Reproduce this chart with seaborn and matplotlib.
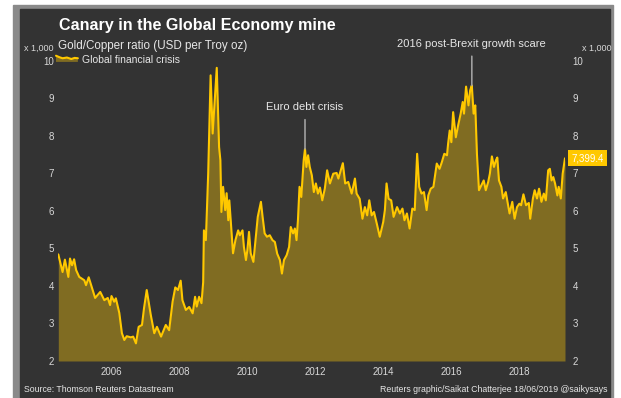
import matplotlib
matplotlib.use("Agg")
import matplotlib.pyplot as plt
from matplotlib.patches import Rectangle, Polygon
from matplotlib.lines import Line2D
from matplotlib.legend_handler import HandlerBase
import pandas as pd
import seaborn as sns

# Gold/Copper ratio, USD per troy oz
dates = [
    "2004-06-08", "2004-07-24", "2004-08-18", "2004-09-24", "2004-10-12", "2004-11-03",
    "2004-11-25", "2004-12-17", "2005-01-19", "2005-03-15", "2005-04-02", "2005-05-01",
    "2005-06-07", "2005-07-09", "2005-09-02", "2005-10-16", "2005-11-22", "2005-12-17",
    "2006-01-01", "2006-01-30", "2006-02-17", "2006-03-26", "2006-04-23", "2006-05-19",
    "2006-06-14", "2006-07-28", "2006-08-22", "2006-09-21", "2006-10-20", "2006-11-25",
    "2006-12-17", "2007-01-15", "2007-02-28", "2007-04-06", "2007-05-05", "2007-06-18",
    "2007-08-08", "2007-09-13", "2007-10-20", "2007-11-18", "2007-12-17", "2008-01-15",
    "2008-02-03", "2008-03-11", "2008-04-16", "2008-05-23", "2008-06-18", "2008-07-06",
    "2008-07-31", "2008-08-26", "2008-09-13", "2008-09-21", "2008-10-12", "2008-10-20",
    "2008-11-06", "2008-12-02", "2008-12-24", "2009-01-08", "2009-02-06", "2009-03-03",
    "2009-03-17", "2009-03-28", "2009-04-15", "2009-05-08", "2009-05-23", "2009-06-10",
    "2009-06-21", "2009-07-16", "2009-07-31", "2009-08-26", "2009-09-24", "2009-10-12",
    "2009-11-10", "2009-11-25", "2009-12-17", "2010-01-01", "2010-01-19", "2010-02-06",
    "2010-03-07", "2010-04-23", "2010-05-27", "2010-06-14", "2010-07-06", "2010-07-31",
    "2010-08-30", "2010-09-28", "2010-10-24", "2010-11-18", "2010-12-17", "2011-01-08",
    "2011-01-30", "2011-02-28", "2011-03-26", "2011-04-13", "2011-05-08", "2011-05-27",
    "2011-06-14", "2011-06-29", "2011-07-16", "2011-08-04", "2011-08-30", "2011-09-13",
    "2011-09-28", "2011-10-16", "2011-11-03", "2011-11-25", "2011-12-17", "2012-01-08",
    "2012-01-30", "2012-02-21", "2012-03-17", "2012-04-13", "2012-05-08", "2012-06-07",
    "2012-07-13", "2012-08-18", "2012-09-06", "2012-10-24", "2012-11-18", "2012-12-21",
    "2013-01-27", "2013-03-03", "2013-03-21", "2013-04-23", "2013-05-23", "2013-06-18",
    "2013-07-13", "2013-08-04", "2013-08-30", "2013-09-24", "2013-10-24", "2013-11-25",
    "2014-01-01", "2014-01-19", "2014-02-06", "2014-02-28", "2014-03-28", "2014-04-23",
    "2014-05-30", "2014-06-29", "2014-07-27", "2014-08-18", "2014-09-13", "2014-10-12",
    "2014-11-10", "2014-12-06", "2015-01-01", "2015-01-23", "2015-02-17", "2015-03-15",
    "2015-04-13", "2015-05-01", "2015-05-27", "2015-06-25", "2015-07-31", "2015-08-30",
    "2015-09-24", "2015-10-20", "2015-11-18", "2015-11-30", "2015-12-17", "2016-01-04",
    "2016-01-23", "2016-02-21", "2016-03-17", "2016-04-13", "2016-05-05", "2016-05-19",
    "2016-06-10", "2016-07-06", "2016-07-24", "2016-08-11", "2016-08-30", "2016-09-17",
    "2016-10-05", "2016-10-27", "2016-11-22", "2016-12-17", "2017-01-08", "2017-02-03",
    "2017-02-21", "2017-03-15", "2017-04-06", "2017-04-28", "2017-05-12", "2017-05-30",
    "2017-06-25", "2017-07-13", "2017-08-11", "2017-09-02", "2017-09-21", "2017-10-20",
    "2017-11-14", "2017-12-10", "2018-01-04", "2018-01-23", "2018-02-17", "2018-03-17",
    "2018-04-16", "2018-05-01", "2018-05-30", "2018-06-18", "2018-07-13", "2018-08-04",
    "2018-08-30", "2018-09-24", "2018-10-16", "2018-11-10", "2018-11-28", "2018-12-17",
    "2019-01-04", "2019-01-23", "2019-02-17", "2019-03-03", "2019-03-26", "2019-04-15",
    "2019-05-10",
]
ratio_usd = [
    4840, 4370, 4700, 4240, 4730, 4550,
    4710, 4420, 4240, 4150, 4020, 4230,
    3940, 3680, 3840, 3620, 3680, 3490,
    3730, 3580, 3670, 3280, 2740, 2560,
    2660, 2630, 2650, 2470, 2910, 2960,
    3410, 3890, 3220, 2740, 2910, 2650,
    2960, 2820, 3580, 3960, 3890, 4140,
    3620, 3360, 3440, 3270, 3710, 3450,
    3710, 3540, 4100, 5480, 5220, 5800,
    7000, 9610, 8060, 8670, 9810, 7700,
    7350, 5970, 6640, 6020, 6470, 5750,
    6280, 5400, 4870, 5220, 5480, 5350,
    5480, 5040, 4690, 4950, 5440, 4870,
    4640, 5840, 6240, 5840, 5400, 5310,
    5350, 5220, 5170, 4860, 4690, 4330,
    4690, 4820, 5040, 5570, 5400, 5530,
    5220, 5750, 6640, 6370, 7350, 7650,
    7170, 7480, 7170, 6950, 6500, 6730,
    6460, 6620, 6280, 6590, 7080, 6730,
    6990, 7010, 6860, 7270, 6730, 6770,
    6460, 6860, 6460, 6320, 5790, 6100,
    5880, 6280, 5880, 5970, 5660, 5310,
    5700, 6020, 6730, 6320, 6280, 5840,
    6100, 5930, 6060, 5750, 5930, 5530,
    6060, 6020, 7520, 6640, 6460, 6500,
    6020, 6410, 6590, 6640, 7260, 7120,
    7300, 7520, 7480, 7790, 8140, 7830,
    8630, 7960, 8280, 8590, 8900, 8590,
    9310, 8810, 9210, 9340, 8590, 8810,
    7520, 6550, 6680, 6810, 6550, 6770,
    6990, 7450, 7170, 7350, 7420, 6810,
    6640, 6330, 6500, 6190, 5930, 6240,
    5790, 6100, 6190, 6150, 6440, 6150,
    6210, 5790, 6330, 6550, 6330, 6590,
    6240, 6460, 6280, 7080, 7120, 6810,
    6900, 6730, 6410, 6640, 6330, 6990,
    7399.4,
]
year_labels = ["2006", "2008", "2010", "2012", "2014", "2016", "2018"]
y_ticks = [2, 3, 4, 5, 6, 7, 8, 9, 10]

PANEL = "#333333"
BORDER = "#8a8a8a"
FILL = "#806c22"
LINE = "#ffc800"
TEXT = "#e6e6e6"
TICK = "#d8d8d8"
LEADER = "#a0a0a0"

sns.set_theme(style="dark")
plt.rcParams["font.family"] = ["Liberation Sans", "DejaVu Sans"]

df = pd.DataFrame({"date": pd.to_datetime(dates),
                   "ratio": [v / 1000 for v in ratio_usd]})

W, H = 621, 398
fig = plt.figure(figsize=(W / 100, H / 100), dpi=100)
fig.patch.set_facecolor("white")


def fx(px):
    return px / W


def fy(py):
    return 1 - py / H


# framed dark panel, kept behind the axes
fig.patches.append(Rectangle((fx(13), 0), fx(613) - fx(13), fy(5),
                             transform=fig.transFigure, color=BORDER, zorder=-2))
fig.patches.append(Rectangle((fx(20), 0), fx(610) - fx(20), fy(9),
                             transform=fig.transFigure, color=PANEL, zorder=-1))

ax = fig.add_axes([fx(58.3), fy(361), fx(565) - fx(58.3), fy(60.7) - fy(361)])
ax.set_facecolor(PANEL)
ax.fill_between(df["date"], df["ratio"], 2, color=FILL, lw=0, zorder=1)
sns.lineplot(data=df, x="date", y="ratio", ax=ax, color=LINE, lw=1.5, zorder=2)

ax.set_xlim(df["date"].iloc[0], df["date"].iloc[-1])
ax.set_ylim(2, 10)
ax.set_xticks(pd.to_datetime([f"{y}-01-01" for y in year_labels]))
ax.set_xticklabels(year_labels)
ax.set_yticks(y_ticks)
ax.set_yticklabels([str(t) for t in y_ticks])
ax.set_xlabel("")
ax.set_ylabel("")
ax.grid(False)
for s in ax.spines.values():
    s.set_visible(False)
ax.tick_params(axis="x", length=0, pad=4, labelsize=7, labelcolor=TICK)
ax.tick_params(axis="y", length=0, pad=3, labelsize=7, labelcolor=TICK)

ax2 = ax.twinx()
ax2.set_ylim(2, 10)
ax2.set_yticks(y_ticks)
ax2.set_yticklabels([str(t) for t in y_ticks])
ax2.grid(False)
for s in ax2.spines.values():
    s.set_visible(False)
ax2.tick_params(axis="y", length=0, pad=5.5, labelsize=7, labelcolor=TICK)

# event call-outs
euro = df.loc[df[df["date"].dt.year == 2011]["ratio"].idxmax()]
brexit = df.loc[df[df["date"].dt.year == 2016]["ratio"].idxmax()]
for row, label, dy in [(euro, "Euro debt crisis", 30),
                       (brexit, "2016 post-Brexit growth scare", 30)]:
    ax.annotate(label, xy=(row["date"], row["ratio"]), xytext=(0, dy),
                textcoords="offset points", ha="center", va="center",
                fontsize=8, color=TEXT, annotation_clip=False,
                arrowprops=dict(arrowstyle="-", color=LEADER, lw=1.2,
                                shrinkA=3, shrinkB=0))

# latest value tag
last = ratio_usd[-1]
ax.annotate(f"{last:,.1f}", xy=(1, last / 1000), xycoords=("axes fraction", "data"),
            xytext=(4.5, 0), textcoords="offset points", ha="left", va="center",
            fontsize=7, color="white", annotation_clip=False, zorder=5,
            bbox=dict(boxstyle="square,pad=0.3", fc=LINE, ec="none"))


class AreaSwatch(HandlerBase):
    def create_artists(self, legend, orig_handle, xdescent, ydescent,
                       width, height, fontsize, trans):
        xs = [0.0, 0.15, 0.3, 0.5, 0.7, 0.85, 1.0]
        ys = [1.0, 0.8, 0.65, 0.75, 0.55, 0.7, 0.65]
        pts = [(-xdescent + x * width, -ydescent + y * height) for x, y in zip(xs, ys)]
        poly = Polygon(pts + [(-xdescent + width, -ydescent + 0.15 * height),
                              (-xdescent, -ydescent + 0.15 * height)],
                       closed=True, facecolor=FILL, edgecolor="none", transform=trans)
        line = Line2D([p[0] for p in pts], [p[1] for p in pts], color=LINE,
                      lw=1.5, transform=trans)
        return [poly, line]


proxy = Line2D([], [])
fig.legend(handles=[proxy], labels=["Global financial crisis"],
           handler_map={proxy: AreaSwatch()}, loc="center left",
           bbox_to_anchor=(fx(56), fy(60)), frameon=False, fontsize=7.5,
           labelcolor=TEXT, handlelength=2.1, handleheight=0.7,
           handletextpad=0.4, borderpad=0, borderaxespad=0)

# titles and notes
fig.text(fx(59), fy(30), "Canary in the Global Economy mine", fontsize=11.6,
         weight="bold", color="white", va="baseline")
fig.text(fx(58), fy(49), "Gold/Copper ratio (USD per Troy oz)", fontsize=8.4,
         color=TEXT, va="baseline")
fig.text(fx(53), fy(48), "x 1,000", fontsize=6.5, color=TICK, ha="right", va="center")
fig.text(fx(582), fy(48), "x 1,000", fontsize=6.5, color=TICK, ha="left", va="center")
fig.text(fx(24.5), fy(390), "Source: Thomson Reuters Datastream", fontsize=6.3,
         color=TEXT, va="center")
fig.text(fx(607), fy(390), "Reuters graphic/Saikat Chatterjee 18/06/2019 @saikysays",
         fontsize=6.3, color=TEXT, ha="right", va="center")

fig.savefig("out.png", dpi=100, facecolor=fig.get_facecolor())
